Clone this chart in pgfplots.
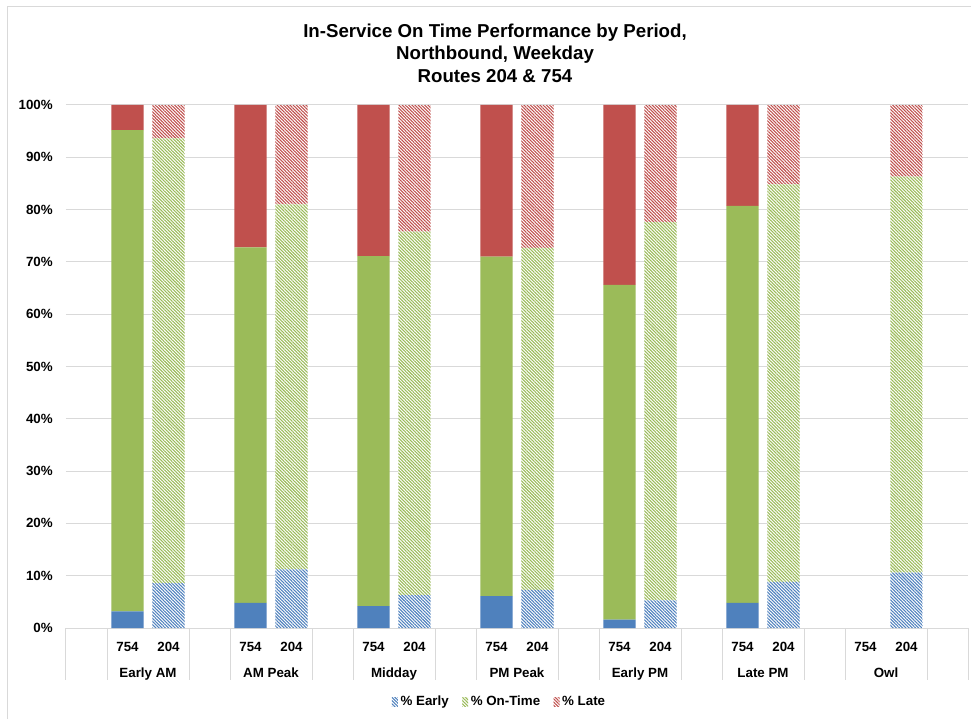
\documentclass[border=0pt]{standalone}
\usepackage{fontspec}
\setmainfont{Liberation Sans}
\usepackage{pgfplots}
\pgfplotsset{compat=1.18}
\usepackage{pgfplotstable}
\usetikzlibrary{patterns.meta}

\definecolor{earlyblue}{HTML}{4F81BD}
\definecolor{ontimegreen}{HTML}{9BBB59}
\definecolor{latered}{HTML}{C0504D}
\definecolor{gridgray}{HTML}{D9D9D9}

% Route 754: shares of trips (percent), solid bars
\pgfplotstableread{
x  early ontime late
1  3.2   92.0   4.8
4  4.8   68.0   27.2
7  4.2   66.9   28.9
10 6.1   64.9   29.0
13 1.6   64.0   34.4
16 4.8   75.9   19.3
}\routeSevenFiveFour

% Route 204: shares of trips (percent), hatched bars
\pgfplotstableread{
x  early ontime late
2  8.6   85.0   6.4
5  11.2  69.8   19.0
8  6.3   69.5   24.2
11 7.3   65.4   27.3
14 5.3   72.3   22.4
17 8.8   76.0   15.2
20 10.6  75.7   13.7
}\routeTwoZeroFour

\tikzset{
  hatch/.style={draw=none, fill=white,
    postaction={pattern={Lines[angle=-45,distance=1.7pt,line width=0.8pt]}, pattern color=#1}},
  catlabel/.style={anchor=base, inner sep=0pt, font=\bfseries\fontsize{10}{12}\selectfont},
}
\pgfplotsset{
  perf axis/.style={
    width=676.5pt, height=392.25pt, scale only axis,
    at={(49.5pt,68.25pt)}, anchor=south west,
    xmin=-0.5, xmax=21.5, ymin=0, ymax=100,
    ybar stacked, bar width=0.79,
    clip=false,
  },
}

\begin{document}
\begin{tikzpicture}
\path[use as bounding box, fill=white] (0pt,0pt) rectangle (728.25pt,539.25pt);
\draw[gridgray, line width=0.75pt] (5.25pt,0pt) -- (5.25pt,534pt) -- (728.25pt,534pt);

\node[align=center, font=\bfseries\fontsize{14}{16.9}\selectfont] at (371.25pt,499.5pt)
  {In-Service On Time Performance by Period,\\Northbound, Weekday\\Routes 204 \& 754};

\begin{axis}[perf axis,
  axis line style={draw=none},
  ymajorgrids, grid style={gridgray, line width=0.75pt},
  major tick length=0pt,
  ytick={0,10,...,100},
  yticklabel={\pgfmathprintnumber{\tick}\%},
  /pgf/number format/assume math mode=true,
  xtick={1,2,4,5,7,8,10,11,13,14,16,17,19,20},
  xticklabels={754,204,754,204,754,204,754,204,754,204,754,204,754,204},
  tick label style={font=\bfseries\fontsize{10}{12}\selectfont},
  yticklabel style={anchor=east, inner sep=0pt, xshift=-9.75pt},
  xticklabel style={anchor=base, inner sep=0pt, yshift=-17.25pt},
]
\addplot[draw=none, fill=earlyblue]   table[x=x, y=early]  {\routeSevenFiveFour};
\addplot[draw=none, fill=ontimegreen] table[x=x, y=ontime] {\routeSevenFiveFour};
\addplot[draw=none, fill=latered]     table[x=x, y=late]   {\routeSevenFiveFour};

% category separators below the axis
\pgfplotsinvokeforeach{-0.5,0.5,2.5,3.5,5.5,6.5,8.5,9.5,11.5,12.5,14.5,15.5,17.5,18.5,20.5,21.5}{
  \draw[gridgray, line width=0.75pt] (axis cs:#1,0) -- ++(0pt,-39pt);
}
\node[catlabel, yshift=-36.75pt] at (axis cs:1.5,0)  {Early AM};
\node[catlabel, yshift=-36.75pt] at (axis cs:4.5,0)  {AM Peak};
\node[catlabel, yshift=-36.75pt] at (axis cs:7.5,0)  {Midday};
\node[catlabel, yshift=-36.75pt] at (axis cs:10.5,0) {PM Peak};
\node[catlabel, yshift=-36.75pt] at (axis cs:13.5,0) {Early PM};
\node[catlabel, yshift=-36.75pt] at (axis cs:16.5,0) {Late PM};
\node[catlabel, yshift=-36.75pt] at (axis cs:19.5,0) {Owl};
\end{axis}

\begin{axis}[perf axis, hide axis,
  legend columns=3,
  legend style={at={(0.481,-0.1415)}, anchor=center, draw=none, fill=none,
    font=\bfseries\fontsize{10}{12}\selectfont,
    /tikz/every even column/.append style={column sep=8pt}},
  legend image code/.code={\path[#1] (0pt,-3.4pt) rectangle (4.5pt,3.4pt);},
]
\addplot[hatch=earlyblue]   table[x=x, y=early]  {\routeTwoZeroFour};
\addplot[hatch=ontimegreen] table[x=x, y=ontime] {\routeTwoZeroFour};
\addplot[hatch=latered]     table[x=x, y=late]   {\routeTwoZeroFour};
\legend{\% Early, \% On-Time, \% Late}
\end{axis}
\end{tikzpicture}
\end{document}
